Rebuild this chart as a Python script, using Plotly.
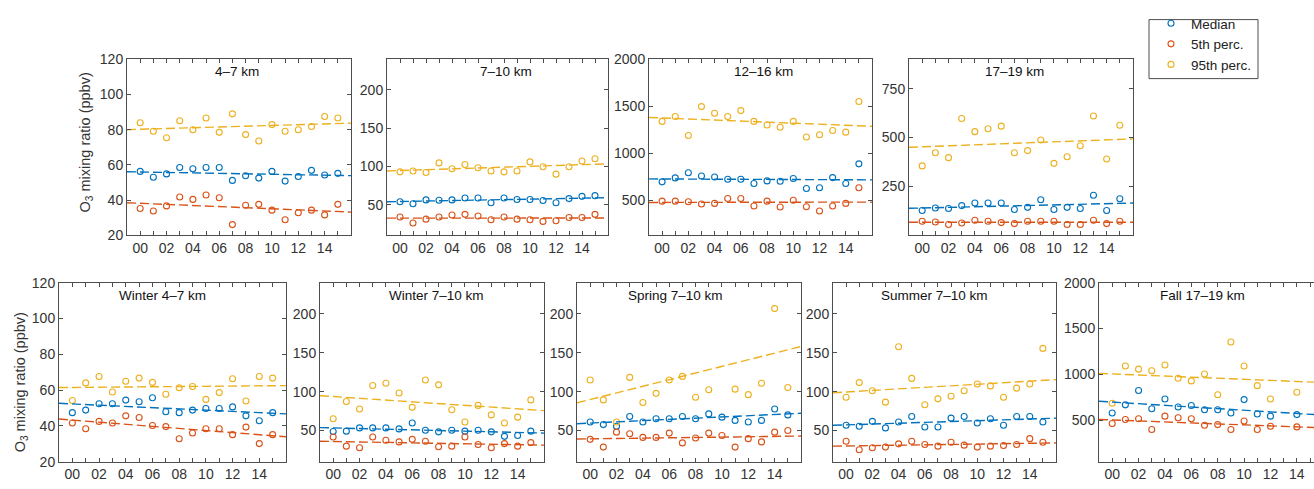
import plotly.graph_objects as go

# ---------------- data ----------------
years = list(range(16))
tick_vals = list(range(16))
tick_text = ["00", "", "02", "", "04", "", "06", "", "08", "", "10", "", "12", "", "14", ""]

series_names = ["Median", "5th perc.", "95th perc."]

# Top row: 4-7 km
t47_med = [56.3, 53.0, 54.9, 58.5, 57.8, 58.5, 58.5, 51.2, 53.8, 52.5, 56.3, 50.8, 53.4, 56.9, 54.3, 55.2]
t47_p05 = [35.2, 33.8, 36.7, 41.8, 40.4, 42.9, 41.3, 26.1, 37.1, 37.6, 34.3, 28.8, 32.8, 34.3, 31.6, 37.6]
t47_p95 = [83.9, 79.1, 75.4, 85.1, 80.0, 86.6, 78.5, 89.0, 77.2, 73.6, 82.9, 79.1, 80.0, 81.8, 87.5, 86.6]
t47_trend = [[56.1, 53.9], [38.5, 33.2], [80.0, 83.7]]

# Top row: 7-10 km
t710_med = [53.8, 51.3, 56.3, 55.9, 56.3, 58.8, 58.8, 52.5, 58.8, 56.7, 56.7, 55.5, 52.5, 58.0, 60.9, 61.8]
t710_p05 = [34.0, 26.0, 31.1, 34.0, 36.6, 37.4, 35.3, 30.3, 34.0, 31.1, 30.3, 28.2, 29.0, 33.2, 33.2, 37.4]
t710_p95 = [92.9, 94.1, 92.0, 104.6, 97.0, 102.5, 98.3, 94.1, 92.9, 94.1, 105.9, 99.6, 89.9, 99.6, 107.1, 110.1]
t710_trend = [[53.8, 59.2], [32.4, 32.6], [94.1, 103.4]]

# Top row: 12-16 km
t1216_med = [698, 740, 795, 760, 750, 726, 726, 681, 708, 705, 733, 628, 635, 743, 681, 889]
t1216_p05 = [493, 493, 486, 462, 469, 521, 521, 441, 493, 431, 503, 434, 389, 441, 469, 635]
t1216_p95 = [1340, 1392, 1191, 1497, 1427, 1392, 1455, 1340, 1302, 1278, 1340, 1174, 1198, 1243, 1226, 1552]
t1216_trend = [[729, 719], [479, 483], [1382, 1288]]

# Top row: 17-19 km
t1719_med = [127, 140, 137, 152, 165, 165, 165, 132, 143, 182, 132, 143, 137, 205, 127, 187]
t1719_p05 = [72, 68, 55, 63, 77, 72, 65, 60, 72, 72, 72, 55, 55, 77, 60, 72]
t1719_p95 = [355, 422, 397, 597, 530, 545, 558, 422, 433, 487, 368, 402, 458, 610, 390, 563]
t1719_trend = [[138, 165], [67, 67], [450, 493]]

# Bottom row: Winter 4-7 km
w47_med = [47.4, 48.8, 52.4, 52.4, 54.4, 53.5, 55.7, 47.9, 47.4, 48.8, 49.7, 49.7, 50.6, 45.6, 42.9, 47.4]
w47_p05 = [41.6, 38.4, 42.5, 41.6, 45.6, 44.7, 40.2, 39.6, 32.8, 36.0, 38.4, 38.4, 35.1, 39.3, 30.1, 35.1]
w47_p95 = [54.2, 64.0, 67.6, 58.9, 64.9, 66.7, 64.3, 57.7, 61.3, 62.0, 54.8, 58.6, 66.3, 53.9, 67.6, 66.7]
w47_trend = [[52.6, 46.7], [43.8, 33.9], [61.4, 62.5]]

# Bottom row: Winter 7-10 km
w710_med = [48.8, 49.2, 53.4, 53.4, 53.4, 52.1, 59.7, 50.4, 48.3, 50.4, 49.2, 50.4, 48.3, 42.5, 43.7, 49.2]
w710_p05 = [41.6, 29.9, 27.8, 41.6, 37.5, 35.4, 38.7, 36.2, 29.1, 29.9, 41.6, 32.0, 27.8, 33.2, 29.9, 34.5]
w710_p95 = [65.1, 87.3, 77.7, 107.8, 110.8, 98.2, 79.8, 115.0, 108.7, 76.8, 60.9, 82.3, 70.1, 59.7, 67.2, 89.4]
w710_trend = [[53.8, 46.7], [36.2, 31.2], [94.8, 75.6]]

# Bottom row: Spring 7-10 km
s710_med = [60.9, 57.6, 55.5, 68.0, 60.9, 65.1, 65.1, 68.0, 65.1, 71.4, 67.2, 63.0, 60.9, 63.0, 77.7, 70.1]
s710_p05 = [38.7, 28.7, 47.9, 45.8, 41.2, 41.2, 46.7, 34.1, 40.4, 46.7, 43.7, 28.7, 39.6, 35.4, 47.9, 50.0]
s710_p95 = [115.0, 89.4, 60.9, 118.3, 86.0, 97.8, 115.0, 119.6, 92.8, 102.4, None, 103.2, 96.1, 110.8, 206.7, 105.3]
s710_trend = [[58.8, 72.2], [39.1, 42.9], [85.6, 158.0]]

# Bottom row: Summer 7-10 km
u710_med = [56.7, 55.5, 61.8, 53.4, 60.9, 68.0, 54.6, 54.6, 65.9, 68.0, 59.7, 65.1, 56.7, 68.0, 68.0, 60.9]
u710_p05 = [36.2, 25.3, 27.8, 28.7, 32.9, 36.2, 32.0, 29.9, 35.0, 31.2, 28.7, 29.9, 30.8, 32.0, 39.6, 35.0]
u710_p95 = [92.8, 111.6, 101.1, 86.5, 157.7, 117.0, 83.1, 90.7, 94.0, 101.1, 109.9, 107.4, 92.8, 104.5, 109.9, 155.6]
u710_trend = [[56.7, 65.9], [29.9, 34.1], [98.6, 115.4]]

# Bottom row: Fall 17-19 km
f1719_med = [581, 669, 825, 627, 733, 645, 662, 616, 616, 581, 726, 570, 546, None, 563, None]
f1719_p05 = [465, 510, 517, 401, 546, 528, 517, 447, 454, 401, 493, 401, 436, None, 429, None]
f1719_p95 = [687, 1093, 1058, 1040, 1103, 959, 930, 1005, 779, 1354, 1093, 878, 733, None, 807, None]
f1719_trend = [[708, 557], [510, 418], [1012, 912]]

trend_x = [-1, 16]

panels = [
    dict(title="4\u20137 km", data=[t47_med, t47_p05, t47_p95], trend=t47_trend,
         yrange=[20, 120], yticks=[20, 40, 60, 80, 100, 120]),
    dict(title="7\u201310 km", data=[t710_med, t710_p05, t710_p95], trend=t710_trend,
         yrange=[10, 240], yticks=[50, 100, 150, 200]),
    dict(title="12\u201316 km", data=[t1216_med, t1216_p05, t1216_p95], trend=t1216_trend,
         yrange=[130, 2000], yticks=[500, 1000, 1500, 2000]),
    dict(title="17\u201319 km", data=[t1719_med, t1719_p05, t1719_p95], trend=t1719_trend,
         yrange=[0, 900], yticks=[250, 500, 750]),
    dict(title="Winter 4\u20137 km", data=[w47_med, w47_p05, w47_p95], trend=w47_trend,
         yrange=[20, 120], yticks=[20, 40, 60, 80, 100, 120]),
    dict(title="Winter 7\u201310 km", data=[w710_med, w710_p05, w710_p95], trend=w710_trend,
         yrange=[10, 240], yticks=[50, 100, 150, 200]),
    dict(title="Spring 7\u201310 km", data=[s710_med, s710_p05, s710_p95], trend=s710_trend,
         yrange=[10, 240], yticks=[50, 100, 150, 200]),
    dict(title="Summer 7\u201310 km", data=[u710_med, u710_p05, u710_p95], trend=u710_trend,
         yrange=[10, 240], yticks=[50, 100, 150, 200]),
    dict(title="Fall 17\u201319 km", data=[f1719_med, f1719_p05, f1719_p95], trend=f1719_trend,
         yrange=[50, 2000], yticks=[500, 1000, 1500, 2000]),
]

# ---------------- layout geometry (pixels) ----------------
W, H = 1314, 489
boxes = [  # (left, right, top, bottom) in pixels
    (127, 351, 53, 235), (387, 608, 53, 235), (649, 872, 53, 235), (909, 1133, 53, 235),
    (59, 286, 284, 469), (320, 544, 284, 469), (577, 801, 284, 469), (833, 1056, 284, 469),
    (1099, 1314, 284, 469),
]
xranges = [[-1, 16]] * 8 + [[-1, 15.3]]
title_pos = [0.491, 0.537, 0.513, 0.469, 0.458, 0.518, 0.4375, 0.457, 0.482]
title_y = [0.929] * 4 + [0.926] * 5

colors = ["#0072BD", "#D95319", "#EDB120"]
axis_color = "#4d4d4d"
font_family = "Liberation Sans, Arial, sans-serif"

fig = go.Figure()
layout = {}
annotations = []

for i, (p, box) in enumerate(zip(panels, boxes)):
    k = i + 1
    xa = "x" if k == 1 else f"x{k}"
    ya = "y" if k == 1 else f"y{k}"
    for s in range(3):
        fig.add_trace(go.Scatter(
            x=years, y=p["data"][s], mode="markers", xaxis=xa, yaxis=ya,
            name=series_names[s], legendgroup=series_names[s], showlegend=(k == 1),
            marker=dict(symbol="circle-open", size=6, color=colors[s], line=dict(width=1.1)),
        ))
    for s in range(3):
        fig.add_trace(go.Scatter(
            x=trend_x, y=p["trend"][s], mode="lines", xaxis=xa, yaxis=ya,
            showlegend=False, hoverinfo="skip",
            line=dict(color=colors[s], width=1.4, dash="9px,4px"),
        ))
    l, r, t, b = box
    xkey = "xaxis" if k == 1 else f"xaxis{k}"
    ykey = "yaxis" if k == 1 else f"yaxis{k}"
    layout[xkey] = dict(
        domain=[l / W, r / W], anchor=ya, range=xranges[i],
        tickmode="array", tickvals=tick_vals, ticktext=tick_text,
        ticks="inside", ticklen=4, tickcolor=axis_color, tickwidth=1,
        showline=True, linecolor=axis_color, linewidth=1, mirror="ticks",
        showgrid=False, zeroline=False,
        tickfont=dict(size=14, color="#333333", family=font_family),
    )
    layout[ykey] = dict(
        domain=[1 - b / H, 1 - t / H], anchor=xa, range=p["yrange"],
        tickmode="array", tickvals=p["yticks"],
        ticks="inside", ticklen=4, tickcolor=axis_color, tickwidth=1,
        showline=True, linecolor=axis_color, linewidth=1,
        mirror=("ticks" if k != 9 else False),
        showgrid=False, zeroline=False,
        tickfont=dict(size=14, color="#333333", family=font_family),
    )
    annotations.append(dict(
        text=p["title"], xref=f"{xa} domain", yref=f"{ya} domain",
        x=title_pos[i], y=title_y[i], xanchor="center", yanchor="middle",
        showarrow=False, font=dict(size=13.5, color="#111111", family=font_family),
    ))

# y-axis titles
for (xpx, ypx) in [(86, 139), (21, 387)]:
    annotations.append(dict(
        text="O<sub>3</sub> mixing ratio (ppbv)", xref="paper", yref="paper",
        x=xpx / W, y=1 - ypx / H, xanchor="center", yanchor="middle",
        textangle=-90, showarrow=False,
        font=dict(size=14.5, color="#333333", family=font_family),
    ))

# legend frame (drawn as a shape so its size matches the reference)
legend_box = dict(type="rect", xref="paper", yref="paper",
                  x0=1149 / W, x1=1258 / W, y0=1 - 73 / H, y1=1 - 12 / H,
                  line=dict(color=axis_color, width=1), fillcolor="rgba(0,0,0,0)")

fig.update_layout(
    width=W, height=H,
    margin=dict(l=0, r=0, t=0, b=0),
    paper_bgcolor="white", plot_bgcolor="white",
    showlegend=True,
    legend=dict(
        x=1151 / W, y=1.0, xanchor="left", yanchor="top",
        borderwidth=0, bgcolor="rgba(0,0,0,0)",
        font=dict(size=13.5, color="#222222", family=font_family),
        itemwidth=30, tracegroupgap=0,
    ),
    shapes=[legend_box],
    annotations=annotations,
    **layout,
)

fig.write_html(
    "out.html",
    config={"displayModeBar": False},
    post_script="document.body.style.margin='0';document.body.style.overflow='hidden';",
)
